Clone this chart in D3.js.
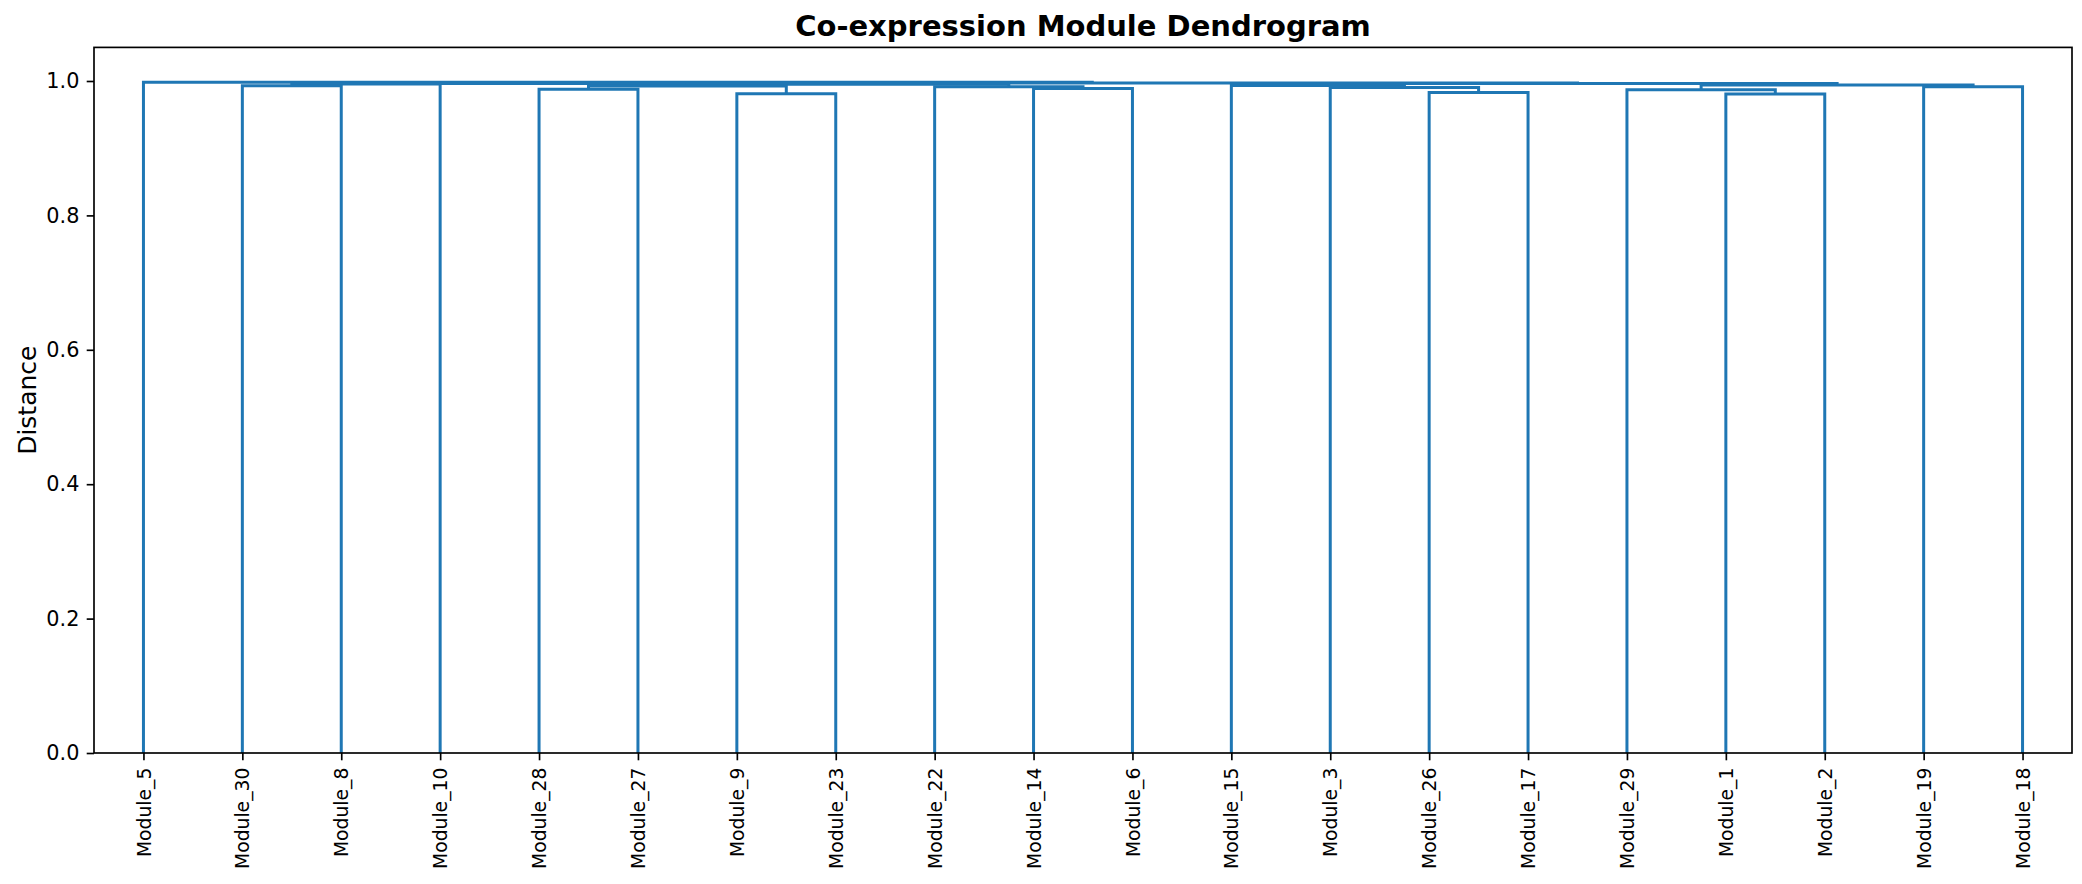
<!DOCTYPE html>
<html>
<head>
<meta charset="utf-8">
<script src="https://cdn.jsdelivr.net/npm/d3@7"></script>
<style>
  body { margin: 0; background: #fff; }
  .axis text { font-family: "DejaVu Sans", sans-serif; fill: #000; }
</style>
</head>
<body>
<div id="chart"></div>
<script>
// --------------------------------------------------------------------------------------
// data - leaves in drawing order, merges like a scipy linkage
// ids 0..19 are leaves, id 20 + k is merge k
// --------------------------------------------------------------------------------------
var leafLabels = ["Module_5", "Module_30", "Module_8", "Module_10", "Module_28",
                  "Module_27", "Module_9", "Module_23", "Module_22", "Module_14",
                  "Module_6", "Module_15", "Module_3", "Module_26", "Module_17",
                  "Module_29", "Module_1", "Module_2", "Module_19", "Module_18"];

var mergeLeft   = [6, 16, 13, 15, 4, 9, 12, 8, 18, 24, 1, 11, 23, 30, 29, 33, 31, 35, 0];
var mergeRight  = [7, 17, 14, 21, 5, 10, 22, 25, 19, 20, 2, 26, 28, 3, 27, 34, 32, 36, 37];
var mergeHeight = [0.9812, 0.9808, 0.983, 0.987, 0.9878, 0.9888, 0.9903, 0.9915, 0.9915, 0.9925,
                   0.993, 0.9932, 0.994, 0.9955, 0.995, 0.9962, 0.9963, 0.997, 0.998];

var yTicks = [0.0, 0.2, 0.4, 0.6, 0.8, 1.0];

var title = "Co-expression Module Dendrogram";
var yLabel = "Distance";

// --------------------------------------------------------------------------------------
// build nested tree from merge arrays
// --------------------------------------------------------------------------------------
function build_node(id)
{
  if(id < leafLabels.length)
    return { name : leafLabels[id], leaf : id, height : 0 };

  var k = id - leafLabels.length;
  return { name : "merge_" + k, height : mergeHeight[k],
           children : [build_node(mergeLeft[k]), build_node(mergeRight[k])] };
}
// --------------------------------------------------------------------------------------
// draw
// --------------------------------------------------------------------------------------
function graph()
{
  var W = 2082, H = 884;
  var margin = {top: 47.4, right: 10, bottom: 131, left: 94};
  var width = W - margin.left - margin.right;
  var height = H - margin.top - margin.bottom;

  var lineColor = "#1f77b4";

  // scipy style x units: leaf i sits at 5 + 10 * i
  var x = d3.scaleLinear().domain([0, leafLabels.length * 10]).range([0, width]);
  var y = d3.scaleLinear().domain([0, 1.05]).range([height, 0]);

  var root = d3.hierarchy(build_node(leafLabels.length + mergeHeight.length - 1));

  // leaf positions, then merge positions as mid of children
  root.eachAfter(function(d) {
    if(!d.children) d.xv = 5 + 10 * d.data.leaf;
    else d.xv = d3.mean(d.children, function(c) { return c.xv; });
  });

  var svg = d3.select("#chart").append("svg")
      .attr("width", W)
      .attr("height", H)
      .style("background", "#fff");

  var g = svg.append("g")
      .attr("transform", "translate(" + margin.left + "," + margin.top + ")");

  // ==========================================================
  // links - one bracket per merge
  var merges = root.descendants().filter(function(d) { return d.children; });

  g.selectAll(".link")
      .data(merges)
      .enter().append("path")
      .attr("class", "link")
      .attr("fill", "none")
      .attr("stroke", lineColor)
      .attr("stroke-width", 3)
      .attr("d", function(d) {
        var a = d.children[0], b = d.children[1];
        return "M" + x(a.xv) + "," + y(a.data.height) +
               "V" + y(d.data.height) +
               "H" + x(b.xv) +
               "V" + y(b.data.height);
      });

  // ==========================================================
  // axes
  var leafTicks = leafLabels.map(function(l, i) { return 5 + 10 * i; });

  var xAxis = g.append("g")
      .attr("class", "axis")
      .attr("transform", "translate(0," + height + ")")
      .call(d3.axisBottom(x)
        .tickValues(leafTicks)
        .tickFormat(function(v, i) { return leafLabels[i]; })
        .tickSize(7.3)
        .tickPadding(7.3));

  xAxis.selectAll("text")
      .style("font-size", "18.75px")
      .attr("x", 0)
      .attr("y", 0)
      .attr("dy", "0.35em")
      .attr("transform", "translate(0,14.6) rotate(-90)")
      .style("text-anchor", "end");

  var yAxis = g.append("g")
      .attr("class", "axis")
      .call(d3.axisLeft(y)
        .tickValues(yTicks)
        .tickFormat(d3.format(".1f"))
        .tickSize(7.3)
        .tickPadding(7.3));

  yAxis.selectAll("text").style("font-size", "20.8px");

  g.selectAll(".axis .domain").remove();
  g.selectAll(".axis line").attr("stroke", "#000").attr("stroke-width", 1.67);

  // frame
  g.append("rect")
      .attr("x", 0)
      .attr("y", 0)
      .attr("width", width)
      .attr("height", height)
      .attr("fill", "none")
      .attr("stroke", "#000")
      .attr("stroke-width", 1.67);

  // ==========================================================
  // title and y label
  svg.append("text")
      .attr("x", margin.left + width / 2)
      .attr("y", 36)
      .attr("text-anchor", "middle")
      .style("font-family", "DejaVu Sans, sans-serif")
      .style("font-size", "29px")
      .style("font-weight", "bold")
      .text(title);

  svg.append("text")
      .attr("transform", "translate(36," + (margin.top + height / 2) + ") rotate(-90)")
      .attr("text-anchor", "middle")
      .style("font-family", "DejaVu Sans, sans-serif")
      .style("font-size", "25px")
      .text(yLabel);
}
// --------------------------------------------------------------------------------------
graph()
// --------------------------------------------------------------------------------------
</script>
</body>
</html>
